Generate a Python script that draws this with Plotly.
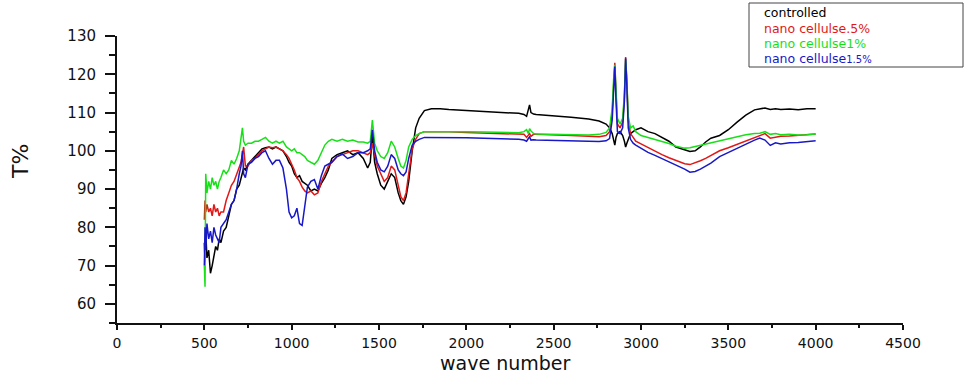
import plotly.graph_objects as go

# ---------------- data ----------------
wavenumber = [
    500, 504, 508, 515, 525, 535, 545, 555, 565, 575, 585, 595, 610, 625, 640, 655, 670, 685, 700,
    710, 718, 725, 735, 750, 770, 790, 810, 830, 850, 870, 890, 910, 930, 950, 970, 985, 1000,
    1015, 1030, 1045, 1060, 1075, 1090, 1110, 1130, 1150, 1170, 1190, 1210, 1230, 1260, 1290,
    1320, 1350, 1380, 1410, 1435, 1450, 1462, 1475, 1490, 1510, 1530, 1550, 1570, 1590, 1610,
    1625, 1640, 1655, 1670, 1690, 1710, 1730, 1760, 1800,
    1850, 1900, 2000, 2100, 2200, 2300, 2330, 2345, 2355, 2362, 2370, 2385, 2400, 2500, 2600,
    2700, 2760, 2800, 2820, 2835, 2843, 2850, 2857, 2865, 2880, 2895, 2905, 2912, 2919, 2927,
    2940, 2955, 2970, 3000, 3040, 3080, 3120, 3160, 3200, 3250, 3280, 3310, 3340, 3370, 3400,
    3450, 3500, 3550, 3600, 3650, 3680, 3710, 3740, 3770, 3800, 3850, 3900, 3950, 4000,
]

controlled = [
    76, 71, 79, 72, 74, 68, 70, 73, 75, 74, 77, 76, 79, 80, 83, 86, 87, 90, 91,
    93, 94, 95.5, 95, 96.5, 97.5, 98.5, 99.5, 100.5, 100.8, 101, 100.5, 101, 100.5, 100, 98.5, 97, 96,
    94, 93, 93.5, 92, 91.5, 91, 89.5, 90, 89.5, 91.5, 93, 95, 98, 99, 99.5,
    100, 99, 99.5, 98, 95.5, 97, 104, 97, 94, 91, 90, 92, 94, 93, 89,
    87, 86, 88, 92, 100, 106, 108.5, 110.5, 111,
    111, 110.8, 110.5, 110.2, 110, 109.8, 109.5, 109, 110.5, 112, 110, 109.6, 109.5, 109.2, 108.8,
    108.3, 107.8, 107, 106, 104.5, 103, 101.5, 103.5, 104.5, 105, 104, 102.5, 101, 102, 103,
    104.5, 105, 105.5, 106, 105, 104.5, 103.5, 102.5, 101, 100.2, 99.8, 100, 101, 102.3, 103.3,
    104, 105.5, 107.5, 109.3, 110.7, 111, 111.2, 110.8, 111, 110.8, 110.9, 110.7, 111, 111,
]

nano_05 = [
    82, 87, 84, 86, 84, 85, 83, 86, 84, 85, 83, 84, 84, 87, 89, 91, 92, 94, 96,
    97, 99, 101, 96, 96, 97.5, 98, 99, 100, 100.5, 101, 100.8, 101, 100.5, 100, 99, 98, 96.5,
    95, 93, 92, 90.5, 89.5, 89, 89.5, 88.5, 89, 92, 94, 96, 97, 98.5, 99,
    99.5, 100, 100, 99.5, 99, 99.5, 102, 99, 96, 94, 92, 93, 96, 95, 91,
    88, 87, 89, 94, 100.5, 103, 104.5, 105, 105,
    105, 105, 104.8, 104.7, 104.6, 104.5, 104.3, 103.5, 104.3, 104.5, 103.8, 104.3, 104.3, 104.2, 104,
    103.8, 103.7, 104, 105, 110, 119, 123, 115, 107, 106, 107.5, 114, 124.5, 118, 108,
    104.5, 103.5, 102.5, 101.8, 100.8, 99.8, 99, 98.2, 97.5, 96.6, 96.4, 96.8, 97.4, 98, 98.8,
    100, 100.8, 101.7, 102.6, 103.4, 104, 104.5, 103.3, 103.6, 103.8, 103.9, 104, 104.2, 104.4,
]

nano_1 = [
    70, 64.5, 94, 89, 92, 90, 93, 91, 92, 90, 92, 93, 95, 94, 95, 97.5, 96.5, 98, 100,
    103, 106, 102.5, 101.5, 102, 102, 102.5, 102.5, 103, 103.5, 102.5, 102, 102.5, 102, 102.5, 101, 100.5, 100,
    100.5, 99.5, 99.5, 99, 98.5, 97.5, 97, 96.5, 97.5, 99.5, 101.5, 102.5, 103, 102.5, 103,
    102.5, 102.8, 102.3, 102.3, 102, 102.5, 108, 102, 100, 98.5, 98, 99.5, 102.5, 101, 98,
    96, 95.5, 97.5, 101, 103, 104, 104.5, 105, 105,
    105, 105.1, 105, 104.9, 104.8, 104.7, 105, 105.5, 104.5, 105.8, 105.2, 104.5, 104.4, 104.3, 104.2,
    104.1, 104.3, 104.8, 106, 111, 118.5, 122.5, 116, 108.5, 107, 108.5, 115, 124, 118.5, 109,
    106, 106.5, 105, 104, 103.5, 103, 102.5, 101.9, 101.2, 100.7, 100.8, 101.1, 101.5, 101.8, 102.1,
    102.7, 103.2, 103.7, 104.2, 104.5, 104.6, 105, 104.3, 104.5, 104.2, 104.3, 104.1, 104.2, 104.4,
]

nano_15 = [
    70, 80, 74, 81, 77, 79, 76, 80, 78, 77, 76, 80, 81, 82, 84, 86, 87, 90, 94,
    96, 100, 94, 93, 96.5, 97, 98, 98.5, 99.5, 100, 98, 96.5, 97.5, 97.5, 95.5, 90, 84, 82.5,
    83, 85, 81, 80.5, 86, 90.5, 92, 92.5, 90, 93.5, 96, 96.5, 97, 98.5, 99.2,
    98, 98.5, 99.5, 99.5, 100, 100.5, 105.5, 100, 97, 95, 94.5, 96, 99, 98, 95,
    94, 93.5, 94.5, 98, 101.5, 102.5, 103, 103.5, 103.5,
    103.5, 103.5, 103.4, 103.3, 103.2, 103, 102.8, 102.5, 103.2, 103.6, 102.8, 102.9, 102.8, 102.7, 102.6,
    102.4, 102.4, 102.6, 103.2, 108, 117, 122, 113, 105, 104.5, 106, 113, 124.2, 117, 106,
    103, 102, 101.5, 100.6, 99.6, 98.8, 98, 97.2, 96.3, 95.2, 94.4, 94.6, 95.2, 96, 96.8,
    98.5, 99.6, 100.7, 101.7, 102.8, 103.3, 102.8, 101.4, 102.1, 101.8, 102.1, 102.2, 102.4, 102.6,
]

series_names = ["controlled", "nano cellulse.5%", "nano cellulse1%", "nano cellulse1.5%"]
series_values = [controlled, nano_05, nano_1, nano_15]
series_colors = ["#000000", "#e01818", "#18e018", "#1818c8"]

x_ticks = [0, 500, 1000, 1500, 2000, 2500, 3000, 3500, 4000, 4500]
y_ticks = [60, 70, 80, 90, 100, 110, 120, 130]

# ---------------- figure ----------------
fig = go.Figure()
for name, vals, col in zip(series_names, series_values, series_colors):
    fig.add_trace(go.Scatter(
        x=wavenumber, y=vals, mode="lines", name=name,
        line=dict(color=col, width=1.5), showlegend=False,
    ))

# pixel helpers for placing texts in paper coordinates
L, R, T, B = 117, 903, 36, 323
def px(x):
    return (x - L) / (R - L)
def py(y):
    return (B - y) / (B - T)

fig.update_layout(
    width=967, height=376, autosize=False,
    margin=dict(l=L, r=967 - R, t=T, b=376 - B),
    paper_bgcolor="white", plot_bgcolor="white",
    font=dict(family="DejaVu Sans", color="#111111"),
    xaxis=dict(
        range=[0, 4500], tickvals=x_ticks, ticktext=[str(v) for v in x_ticks],
        showgrid=False, zeroline=False, automargin=False,
        showline=True, linecolor="#111111", linewidth=1.5,
        ticks="outside", ticklen=5, tickwidth=1.5, tickcolor="#111111",
        minor=dict(dtick=250, tick0=0, ticks="outside", ticklen=3, tickwidth=1.5, tickcolor="#111111"),
        tickfont=dict(family="DejaVu Sans", size=14, color="#111111"), ticklabelstandoff=1,
    ),
    yaxis=dict(
        range=[55, 130], tickvals=y_ticks, ticktext=[str(v) for v in y_ticks],
        showgrid=False, zeroline=False, automargin=False,
        showline=True, linecolor="#111111", linewidth=2,
        ticks="outside", ticklen=10, tickwidth=1.5, tickcolor="#111111",
        minor=dict(dtick=5, tick0=0, ticks="outside", ticklen=6, tickwidth=1.5, tickcolor="#111111"),
        tickfont=dict(family="DejaVu Sans", size=15, color="#111111"), ticklabelstandoff=6,
    ),
)

# axis titles
fig.add_annotation(
    text="wave number", xref="paper", yref="paper",
    x=px(505), y=py(363), xanchor="center", yanchor="middle", showarrow=False,
    borderpad=0,
    font=dict(family="DejaVu Sans", size=19, color="#111111"),
)
fig.add_annotation(
    text="T%", xref="paper", yref="paper",
    x=px(20), y=py(162),
    xanchor="center", yanchor="middle", textangle=-90, showarrow=False,
    font=dict(family="DejaVu Sans", size=22, color="#111111"),
)

# legend box drawn as a shape plus coloured text labels
fig.add_shape(
    type="rect", xref="paper", yref="paper",
    x0=px(749), x1=px(963), y0=py(67), y1=py(3),
    line=dict(color="#444444", width=1), fillcolor="white", layer="above",
)
legend_labels = [
    "controlled",
    "nano cellulse.5%",
    "nano cellulse1%",
    "nano cellulse<span style='font-size:10px'>1.5%</span>",
]
legend_y = [13, 28, 43, 58]
for lab, col, yy in zip(legend_labels, series_colors, legend_y):
    fig.add_annotation(
        text=lab, xref="paper", yref="paper",
        x=px(763), y=py(yy), borderpad=0,
        xanchor="left", yanchor="middle", showarrow=False,
        font=dict(family="DejaVu Sans", size=12.5, color=col),
    )

fig.write_html("out.html", config={"displayModeBar": False},
               post_script="document.body.style.margin='0';")
